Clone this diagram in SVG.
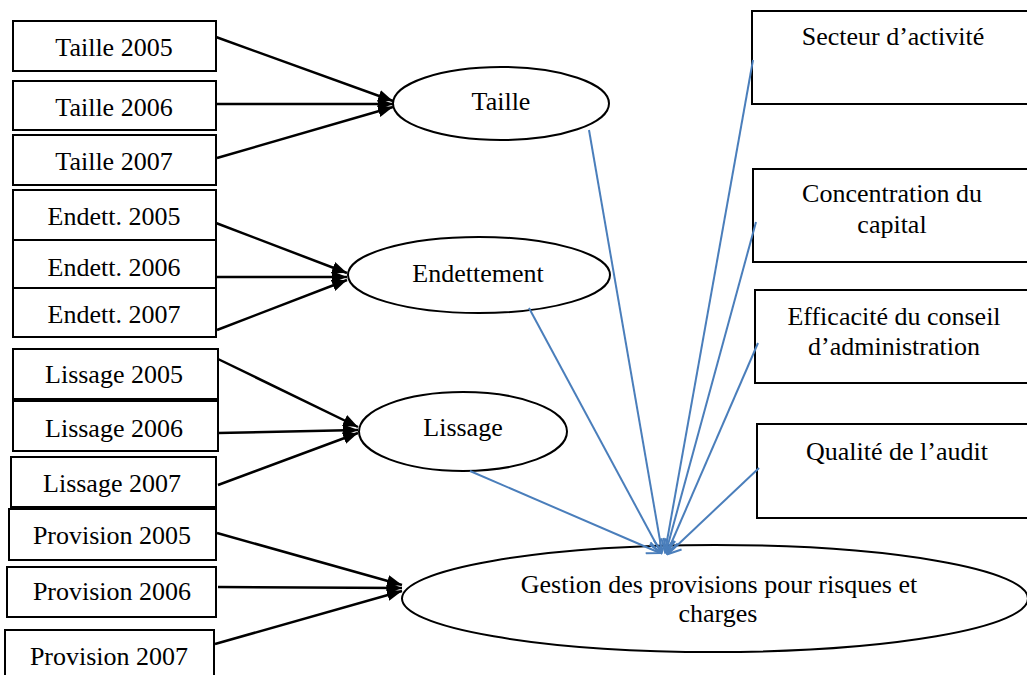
<svg xmlns="http://www.w3.org/2000/svg" width="1027" height="675" viewBox="0 0 1027 675">
<style>
.box{fill:#fff;stroke:#000;stroke-width:2}
.ell{fill:#fff;stroke:#000;stroke-width:2}
.t{font-family:"Liberation Serif","Times New Roman",serif;font-size:26px;fill:#000;text-anchor:middle}
.blk{stroke:#000;stroke-width:2.5;fill:none;marker-end:url(#ah)}
.blu{stroke:#4a7ebb;stroke-width:2;fill:none;marker-end:url(#bh)}
</style>
<defs>
<marker id="ah" markerUnits="userSpaceOnUse" markerWidth="16" markerHeight="12" refX="15" refY="6" orient="auto">
<path d="M0,0 L15,6 L0,12 z" fill="#000"/>
</marker>
<marker id="bh" markerUnits="userSpaceOnUse" markerWidth="16" markerHeight="14" refX="14" refY="7" orient="auto">
<path d="M1,1 L14,7 L1,13" fill="none" stroke="#4a7ebb" stroke-width="2"/>
</marker>
</defs>
<rect width="1027" height="675" fill="#fff"/>

<g id="n-taille2005"><rect class="box" x="13" y="21" width="203" height="50"/><text class="t" x="114" y="56">Taille 2005</text></g>
<g id="n-taille2006"><rect class="box" x="13" y="81" width="203" height="49"/><text class="t" x="114" y="116">Taille 2006</text></g>
<g id="n-taille2007"><rect class="box" x="13" y="135" width="203" height="50"/><text class="t" x="114" y="170">Taille 2007</text></g>

<g id="n-endett2005"><rect class="box" x="13" y="190" width="203" height="50"/><text class="t" x="114" y="225">Endett. 2005</text></g>
<g id="n-endett2006"><rect class="box" x="13" y="240" width="203" height="48"/><text class="t" x="114" y="276">Endett. 2006</text></g>
<g id="n-endett2007"><rect class="box" x="13" y="288" width="203" height="49"/><text class="t" x="114" y="323">Endett. 2007</text></g>

<g id="n-lissage2005"><rect class="box" x="13" y="349" width="205" height="50"/><text class="t" x="114" y="383">Lissage 2005</text></g>
<g id="n-lissage2006"><rect class="box" x="13" y="401" width="205" height="50"/><text class="t" x="114" y="437">Lissage 2006</text></g>
<g id="n-lissage2007"><rect class="box" x="11" y="457" width="205" height="50"/><text class="t" x="112" y="492">Lissage 2007</text></g>

<g id="n-provision2005"><rect class="box" x="9" y="509" width="207" height="51"/><text class="t" x="112" y="544">Provision 2005</text></g>
<g id="n-provision2006"><rect class="box" x="7" y="567" width="209" height="50"/><text class="t" x="112" y="600">Provision 2006</text></g>
<g id="n-provision2007"><rect class="box" x="5" y="630" width="209" height="52"/><text class="t" x="109" y="665">Provision 2007</text></g>

<g id="n-taille"><ellipse class="ell" cx="501" cy="103.5" rx="108" ry="36.5"/><text class="t" x="501" y="110">Taille</text></g>
<g id="n-endettement"><ellipse class="ell" cx="479" cy="275" rx="131" ry="38"/><text class="t" x="478" y="282">Endettement</text></g>
<g id="n-lissage"><ellipse class="ell" cx="463" cy="431.5" rx="104" ry="39.5"/><text class="t" x="463" y="436">Lissage</text></g>
<g id="n-gestion"><ellipse class="ell" cx="715" cy="598.5" rx="313" ry="53.5"/><text class="t" x="719" y="593">Gestion des provisions pour risques et</text><text class="t" x="718" y="622">charges</text></g>

<g id="n-secteur"><rect class="box" x="752" y="11" width="280" height="93"/><text class="t" x="893" y="45">Secteur d’activité</text></g>
<g id="n-concentration"><rect class="box" x="753" y="169" width="280" height="93"/><text class="t" x="892" y="202">Concentration du</text><text class="t" x="892" y="233">capital</text></g>
<g id="n-efficacite"><rect class="box" x="755" y="290" width="280" height="93"/><text class="t" x="894" y="325">Efficacité du conseil</text><text class="t" x="894" y="355">d’administration</text></g>
<g id="n-qualite"><rect class="box" x="757" y="424" width="280" height="94"/><text class="t" x="897" y="460">Qualité de l’audit</text></g>

<g id="connectors">
<path class="blk" d="M216,37 L393,101"/>
<path class="blk" d="M216,104 L393,104"/>
<path class="blk" d="M217,158 L393,107"/>
<path class="blk" d="M216,223 L347,273"/>
<path class="blk" d="M216,277 L347,277"/>
<path class="blk" d="M217,330 L347,280"/>
<path class="blk" d="M218,359 L358,427"/>
<path class="blk" d="M218,433 L358,430"/>
<path class="blk" d="M218,485 L358,433"/>
<path class="blk" d="M217,533 L402,585"/>
<path class="blk" d="M218,587 L402,588"/>
<path class="blk" d="M215,644 L402,591"/>

<path class="blu" d="M589,130 L662,552"/>
<path class="blu" d="M529,308 L661,553"/>
<path class="blu" d="M470,471 L660,553"/>
<path class="blu" d="M753,60 L665,552"/>
<path class="blu" d="M756,222 L666,552"/>
<path class="blu" d="M758,343 L667,553"/>
<path class="blu" d="M759,468 L668,554"/>
</g>
</svg>
